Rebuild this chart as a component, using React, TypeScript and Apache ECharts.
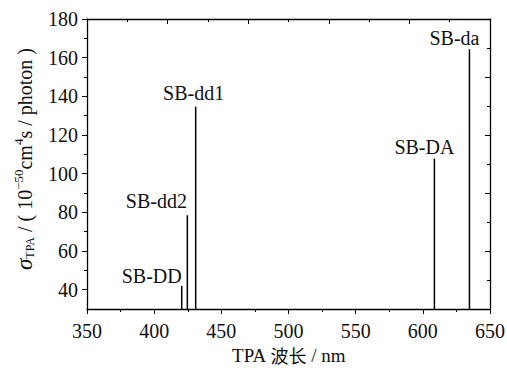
import React, { useEffect, useRef } from "react";
import * as echarts from "echarts";

const peakNames = ["SB-DD", "SB-dd2", "SB-dd1", "SB-DA", "SB-da"];
const peakWavelengths = [420.5, 424.7, 430.9, 608.6, 634.7];
const peakSigma = [42, 78.5, 134.7, 107.8, 164.4];
const yLabelValues = [40, 60, 80, 100, 120, 140, 160, 180];
const yMinorValues = [50, 70, 90, 110, 130, 150, 170];

// label placement relative to the top of each line (style only)
const labelDx = [-30, -31, -2, -10, -15];
const labelDy = [0, -4, -4, -2, -1];

const SERIF = "Liberation Serif";
const CJK = "Noto Sans CJK SC";

export default function App() {
  const ref = useRef<HTMLDivElement>(null);
  useEffect(() => {
    if (!ref.current) return;
    const chart = echarts.init(ref.current, undefined, { renderer: "svg" });
    const data = peakWavelengths.map((x, i) => [x, peakSigma[i], i]);
    const axisLine = { show: true, lineStyle: { color: "#000", width: 1.3 } };
    chart.setOption({
      animation: false,
      backgroundColor: "#fff",
      textStyle: { fontFamily: SERIF },
      grid: { left: 87, right: 17, top: 19, bottom: 59, outerBoundsMode: "none", containLabel: false },
      xAxis: [
        {
          type: "value",
          min: 350,
          max: 650,
          interval: 50,
          position: "bottom",
          axisLine,
          axisTick: { show: true, length: 5, inside: false, lineStyle: { color: "#000" } },
          minorTick: { show: true, splitNumber: 2, length: 3, lineStyle: { color: "#000" } },
          splitLine: { show: false },
          axisLabel: { color: "#111", fontFamily: SERIF, fontSize: 20, margin: 12 },
          name: "{a|TPA }{c|波长}{a| / nm}",
          nameLocation: "middle",
          nameGap: 36,
          nameTextStyle: {
            rich: {
              a: { fontFamily: SERIF, fontSize: 19, color: "#111", lineHeight: 20 },
              c: { fontFamily: CJK, fontSize: 18, color: "#111", lineHeight: 20 },
            },
          },
        },
        {
          type: "value",
          min: 0,
          max: 300,
          interval: 60,
          position: "top",
          axisLine,
          axisTick: { show: true, length: 5, inside: true, lineStyle: { color: "#000" } },
          minorTick: { show: true, splitNumber: 2, length: 3, lineStyle: { color: "#000" } },
          splitLine: { show: false },
          axisLabel: { show: false },
        },
      ],
      yAxis: [
        {
          type: "value",
          min: 30,
          max: 180,
          position: "left",
          axisLine,
          axisTick: { show: true, length: 5, inside: false, customValues: yLabelValues, lineStyle: { color: "#000" } },
          splitLine: { show: false },
          axisLabel: { color: "#111", fontFamily: SERIF, fontSize: 20, margin: 9, customValues: yLabelValues },
          name: "{s|σ}{sub|TPA}{n| / ( 10}{sup|−50}{n|cm}{sup|4}{n|s / photon )}",
          nameLocation: "middle",
          nameRotate: 90,
          nameGap: 50,
          nameTextStyle: {
            padding: [0, 0, 0, 10],
            rich: {
              s: { fontFamily: SERIF, fontSize: 23, fontStyle: "italic", color: "#111" },
              sub: { fontFamily: SERIF, fontSize: 12, color: "#111", padding: [10, 0, 0, 0] },
              n: { fontFamily: SERIF, fontSize: 20, color: "#111" },
              sup: { fontFamily: SERIF, fontSize: 13, color: "#111", padding: [0, 0, 12, 0] },
            },
          },
        },
        {
          type: "value",
          min: 30,
          max: 180,
          interval: 30,
          position: "right",
          axisLine,
          axisTick: { show: true, length: 5, inside: true, lineStyle: { color: "#000" } },
          minorTick: { show: true, splitNumber: 2, length: 3, lineStyle: { color: "#000" } },
          splitLine: { show: false },
          axisLabel: { show: false },
        },
        {
          type: "value",
          min: 30,
          max: 180,
          position: "left",
          axisLine: { show: false },
          axisTick: { show: true, length: 3, inside: false, customValues: yMinorValues, lineStyle: { color: "#000" } },
          splitLine: { show: false },
          axisLabel: { show: false },
        },
      ],
      series: [
        {
          type: "custom",
          xAxisIndex: 0,
          yAxisIndex: 0,
          data,
          renderItem: (params: any, api: any) => {
            const x = api.value(0);
            const y = api.value(1);
            const i = api.value(2);
            const p0 = api.coord([x, 30]);
            const p1 = api.coord([x, y]);
            return {
              type: "group",
              children: [
                {
                  type: "line",
                  shape: { x1: p0[0], y1: p0[1], x2: p1[0], y2: p1[1] },
                  style: { stroke: "#000", lineWidth: 1.5 },
                },
                {
                  type: "text",
                  x: p1[0] + labelDx[i],
                  y: p1[1] + labelDy[i],
                  style: {
                    text: peakNames[i],
                    font: "20px Liberation Serif",
                    fill: "#111",
                    textAlign: "center",
                    textVerticalAlign: "bottom",
                  },
                },
              ],
            };
          },
        },
      ],
    });
    return () => chart.dispose();
  }, []);
  return <div ref={ref} style={{ width: 507, height: 368, position: "absolute", left: 0, top: 0 }} />;
}
